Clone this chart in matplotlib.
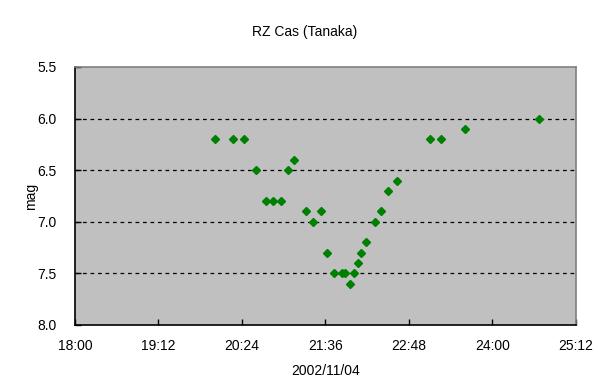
import matplotlib.pyplot as plt

# observations RZ Cas, nuit du 2002/11/04 (heures > 24 = apres minuit)
heures = ["20:01", "20:16", "20:26", "20:36", "20:45", "20:51", "20:58", "21:04",
          "21:09", "21:19", "21:25", "21:32", "21:37", "21:43", "21:50", "21:53",
          "21:57", "22:01", "22:04", "22:07", "22:11", "22:19", "22:24", "22:30",
          "22:38", "23:06", "23:16", "23:36", "24:40"]
magnitudes = [6.2, 6.2, 6.2, 6.5, 6.8, 6.8, 6.8, 6.5,
              6.4, 6.9, 7.0, 6.9, 7.3, 7.5, 7.5, 7.5,
              7.6, 7.5, 7.4, 7.3, 7.2, 7.0, 6.9, 6.7,
              6.6, 6.2, 6.2, 6.1, 6.0]
ticks_x = ["18:00", "19:12", "20:24", "21:36", "22:48", "24:00", "25:12"]
ticks_y = [5.5, 6.0, 6.5, 7.0, 7.5, 8.0]
lignes_y = [6.0, 6.5, 7.0, 7.5]


def en_minutes(h):      # "HH:MM" -> minutes
    hh, mm = h.split(":")
    return int(hh) * 60 + int(mm)


x = [en_minutes(h) for h in heures]
pos_ticks = [en_minutes(h) for h in ticks_x]

plt.rcParams['font.family'] = ['Liberation Sans', 'DejaVu Sans']
fig = plt.figure(figsize=(6.11, 3.92), dpi=100)
ax = fig.add_axes([75 / 611, 67 / 392, 501 / 611, 258 / 392])
ax.set_facecolor('#C0C0C0')

for m in lignes_y:
    ax.axhline(m, color='black', linestyle=(0, (3, 3)), linewidth=0.9, zorder=1)

ax.plot(x, magnitudes, linestyle='none', marker='D', markersize=4.0,
        color='#008000', markeredgecolor='#008000', zorder=3)

ax.set_xlim(pos_ticks[0], pos_ticks[-1])
ax.set_ylim(8.0, 5.5)      # magnitude inversee
ax.set_xticks(pos_ticks)
ax.set_xticklabels(ticks_x)
ax.set_yticks(ticks_y)
ax.set_yticklabels(["%.1f" % v for v in ticks_y])

ax.tick_params(axis='x', direction='in', length=4, width=1, pad=10, labelsize=10)
ax.tick_params(axis='y', direction='in', length=4, width=1, pad=13, labelsize=10)

for c in ['left', 'bottom']:
    ax.spines[c].set_color('black')
    ax.spines[c].set_linewidth(1.2)
for c in ['top', 'right']:
    ax.spines[c].set_color('#808080')
    ax.spines[c].set_linewidth(1.2)

ax.set_xlabel("2002/11/04", fontsize=10, labelpad=8)
ax.set_ylabel("mag", fontsize=10, labelpad=0)
fig.text(305 / 611, 1 - 32 / 392, "RZ Cas (Tanaka)", ha='center', va='center', fontsize=10)

fig.savefig("out.png", dpi=100)
